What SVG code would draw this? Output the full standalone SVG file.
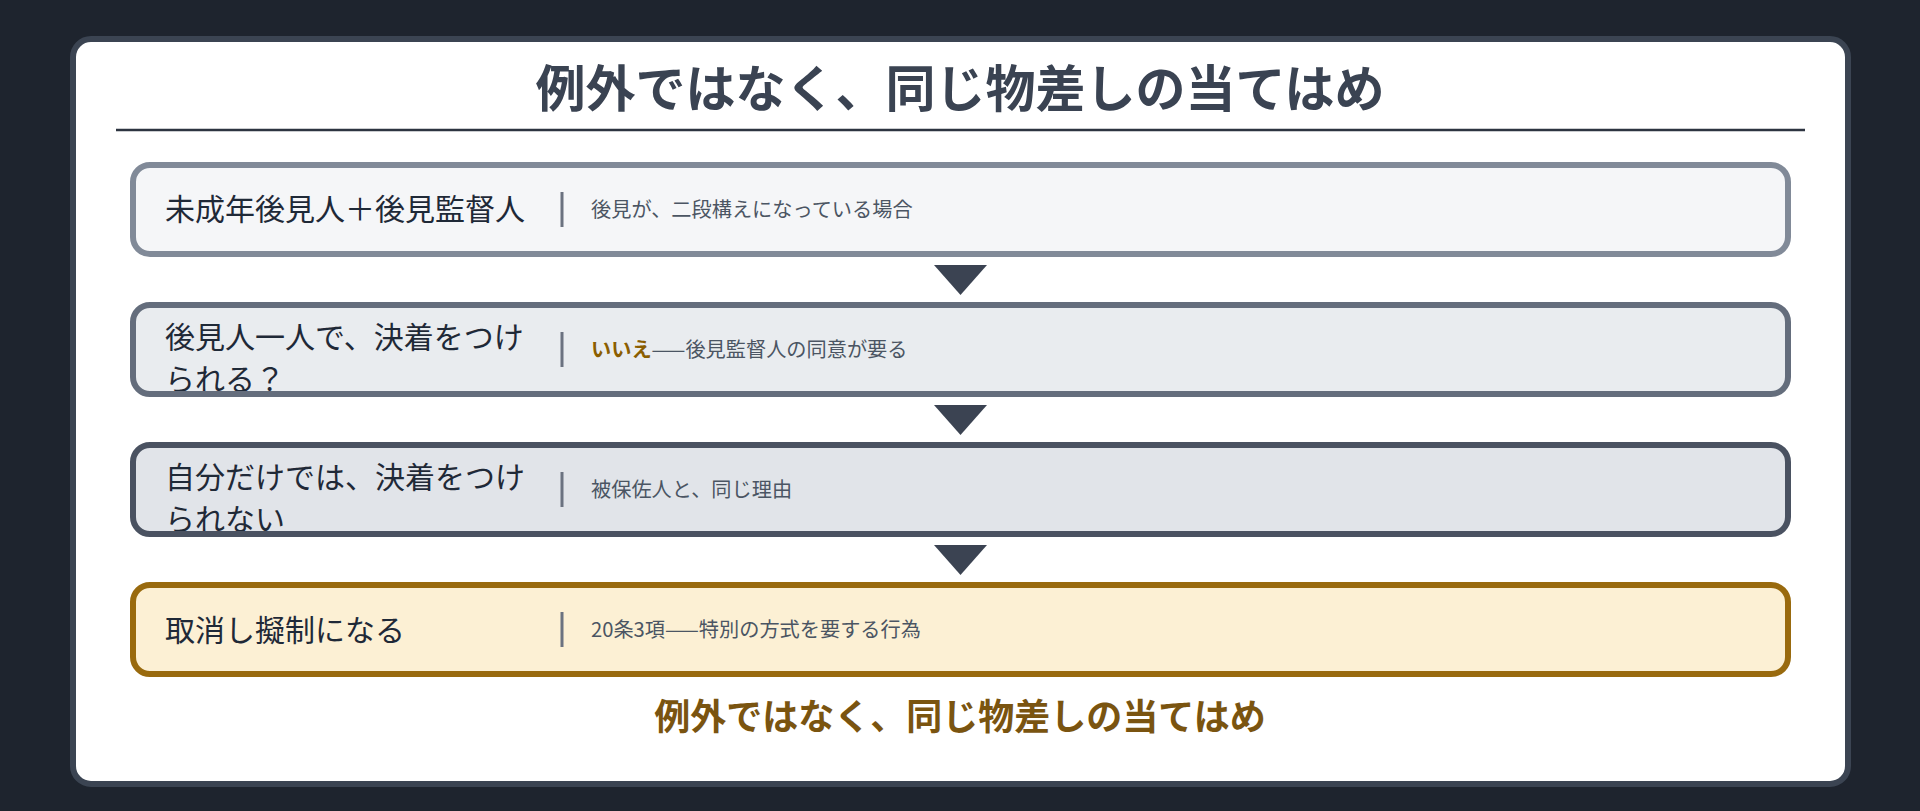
<svg xmlns="http://www.w3.org/2000/svg" width="1920" height="811" viewBox="0 0 1920 811">
  <style>
    .t { font-family: "Noto Sans CJK JP", "Noto Sans", sans-serif; }
    .title { font-size: 50px; font-weight: 700; fill: #3a4352; }
    .foot { font-size: 36px; font-weight: 700; fill: #7a5410; }
    .lbl { font-size: 30px; fill: #1f2937; }
    .desc { font-size: 20.2px; fill: #4b5563; }
    .em { font-weight: 700; fill: #8b5e00; }
    .div { stroke: #6b7280; stroke-width: 3; }
    .arrow { fill: #3b4352; }
  </style>
  <rect x="0" y="0" width="1920" height="811" fill="#1e242e"/>
  <g id="card">
    <rect x="73" y="39" width="1775" height="745" rx="18" fill="#ffffff" stroke="#3b4452" stroke-width="6"/>
    <text class="t title" x="960" y="107" text-anchor="middle">例外ではなく、同じ物差しの当てはめ</text>
    <line x1="116" y1="130" x2="1805" y2="130" stroke="#2d3440" stroke-width="2.7"/>
  </g>
  <g id="connectors">
    <polygon class="arrow" points="934,265 987,265 960.5,295"/>
    <polygon class="arrow" points="934,405 987,405 960.5,435"/>
    <polygon class="arrow" points="934,545 987,545 960.5,575"/>
  </g>
  <g id="node1">
    <rect x="133" y="165" width="1655" height="89" rx="17" fill="#f5f6f8"/>
    <text class="t lbl" x="165" y="220">未成年後見人＋後見監督人</text>
    <line class="div" x1="562" y1="192" x2="562" y2="227"/>
    <text class="t desc" x="591" y="217">後見が、二段構えになっている場合</text>
    <rect x="133" y="165" width="1655" height="89" rx="17" fill="none" stroke="#818a98" stroke-width="6"/>
  </g>
  <g id="node2">
    <rect x="133" y="305" width="1655" height="89" rx="17" fill="#e9ecef"/>
    <text class="t lbl" x="165" y="348">後見人一人で、決着をつけ</text>
    <text class="t lbl" x="165" y="390">られる？</text>
    <line class="div" x1="562" y1="332" x2="562" y2="367"/>
    <text class="t desc" x="591" y="357"><tspan class="em">いいえ</tspan>——後見監督人の同意が要る</text>
    <rect x="133" y="305" width="1655" height="89" rx="17" fill="none" stroke="#646d7c" stroke-width="6"/>
  </g>
  <g id="node3">
    <rect x="133" y="445" width="1655" height="89" rx="17" fill="#e1e4e9"/>
    <text class="t lbl" x="165" y="488">自分だけでは、決着をつけ</text>
    <text class="t lbl" x="165" y="530">られない</text>
    <line class="div" x1="562" y1="472" x2="562" y2="507"/>
    <text class="t desc" x="591" y="497">被保佐人と、同じ理由</text>
    <rect x="133" y="445" width="1655" height="89" rx="17" fill="none" stroke="#4a5261" stroke-width="6"/>
  </g>
  <g id="node4">
    <rect x="133" y="585" width="1655" height="89" rx="17" fill="#fcf0d4"/>
    <text class="t lbl" x="165" y="641">取消し擬制になる</text>
    <line class="div" x1="562" y1="612" x2="562" y2="647"/>
    <text class="t desc" x="591" y="637">20条3項——特別の方式を要する行為</text>
    <rect x="133" y="585" width="1655" height="89" rx="17" fill="none" stroke="#996a0e" stroke-width="6"/>
  </g>
  <text class="t foot" x="960" y="730" text-anchor="middle">例外ではなく、同じ物差しの当てはめ</text>
</svg>
